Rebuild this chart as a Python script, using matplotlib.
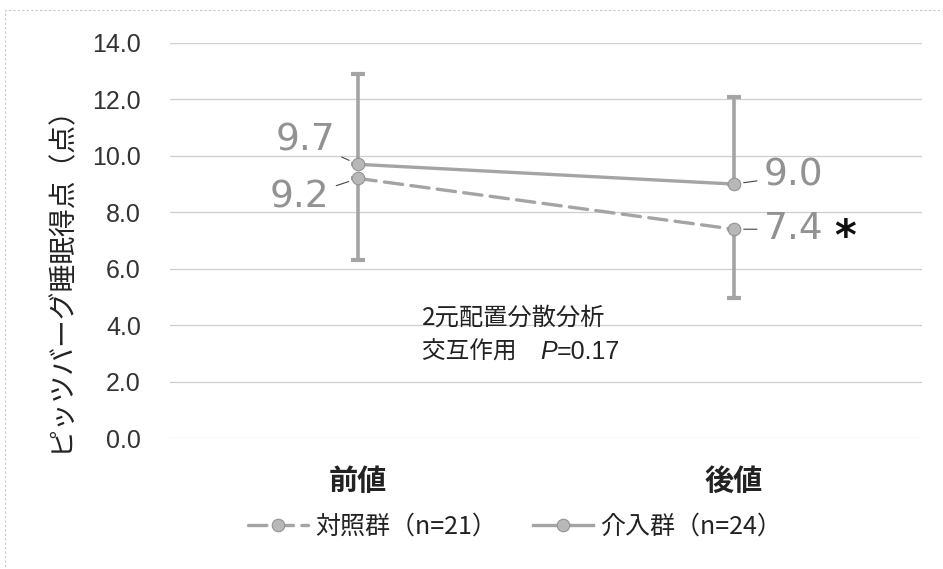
import matplotlib
matplotlib.use('Agg')
import matplotlib.pyplot as plt
from matplotlib.offsetbox import TextArea, HPacker, AnnotationBbox
from matplotlib.patches import Rectangle

plt.rcParams['font.family'] = ['Noto Sans CJK JP', 'DejaVu Sans']

# data
timepoints = ['前値', '後値']
control_mean = [9.2, 7.4]
control_sd = [2.9, 2.45]
interv_mean = [9.7, 9.0]
interv_sd = [3.2, 3.1]
control_name = '対照群（n=21）'
interv_name = '介入群（n=24）'
y_ticks = [0, 2, 4, 6, 8, 10, 12, 14]

line_col = '#a4a4a4'
face_col = '#b8b8b8'
edge_col = '#939393'
label_col = '#929292'

fig = plt.figure(figsize=(9.43, 5.69), dpi=100)
ax = fig.add_axes([170 / 943, 1 - 438 / 569, (922 - 170) / 943, (438 - 43) / 569])

x = list(range(len(timepoints)))

# error bars: upper only for intervention, lower only for control
ax.errorbar(x, interv_mean, yerr=[[0] * len(x), interv_sd], fmt='none',
            ecolor=line_col, elinewidth=2.6, capsize=5, capthick=3, zorder=2)
ax.errorbar(x, control_mean, yerr=[control_sd, [0] * len(x)], fmt='none',
            ecolor=line_col, elinewidth=2.6, capsize=5, capthick=3, zorder=2)

ax.plot(x, control_mean, color=line_col, lw=2.4, dashes=(5.5, 2.5),
        dash_capstyle='round', marker='o', ms=9, mfc=face_col, mec=edge_col,
        mew=0.8, label=control_name, zorder=3)
ax.plot(x, interv_mean, color=line_col, lw=2.4, marker='o', ms=9,
        mfc=face_col, mec=edge_col, mew=0.8, label=interv_name, zorder=3)

# data labels with short leader lines
def put_label(xi, yi, dx, dy):
    ax.annotate(f'{yi:.1f}', xy=(xi, yi), xytext=(dx, dy), textcoords='offset points',
                ha='center', va='center', fontsize=27, color=label_col,
                family='DejaVu Sans',
                arrowprops=dict(arrowstyle='-', color='#444444', lw=0.8,
                                shrinkA=3, shrinkB=7))

put_label(x[0], interv_mean[0], -38, 17)
put_label(x[0], control_mean[0], -42, -14)
put_label(x[1], interv_mean[1], 43, 6)
put_label(x[1], control_mean[1], 43, 0)
ax.annotate('*', xy=(x[1], control_mean[1]), xytext=(80, -6), textcoords='offset points',
            ha='center', va='center', fontsize=30, fontweight='bold', color='#111111',
            family='DejaVu Sans')

# ANOVA note
ax.text(0.335, 4.25, '2元配置分散分析', transform=ax.get_yaxis_transform(),
        fontsize=17.5, color='#222222', va='center', ha='left')
note = HPacker(children=[
    TextArea('交互作用　', textprops=dict(fontsize=17, color='#222222')),
    TextArea('P', textprops=dict(fontsize=18, color='#222222', style='italic',
                                 family='Liberation Sans')),
    TextArea('=0.17', textprops=dict(fontsize=18, color='#222222', family='Liberation Sans')),
], pad=0, sep=0, align='baseline')
ab = AnnotationBbox(note, (0.335, 3.05), xycoords=ax.get_yaxis_transform(),
                    box_alignment=(0, 0.5), frameon=False, pad=0)
ax.add_artist(ab)

ax.set_xlim(-0.5, 1.5)
ax.set_ylim(0, 14)
ax.set_yticks(y_ticks)
ax.set_yticklabels([f'{v:.1f}' for v in y_ticks], family='Liberation Sans',
                   fontsize=18, color='#333333')
ax.set_xticks(x)
ax.set_xticklabels(timepoints, fontsize=21, fontweight='bold', color='#222222')
ax.tick_params(axis='y', length=0, pad=21)
ax.tick_params(axis='x', length=0, pad=20)
ax.grid(axis='y', color='#cfcfcf', lw=0.9)
ax.set_axisbelow(True)
for s in ax.spines.values():
    s.set_visible(False)

fig.text(60 / 943, 1 - 272 / 569, 'ピッツバーグ睡眠得点（点）', rotation=90,
         fontsize=20, ha='center', va='center', color='#222222')

leg = fig.legend(loc='center', bbox_to_anchor=(515 / 943, 1 - 527 / 569),
                 ncol=2, frameon=False, fontsize=18, handlelength=2.4,
                 columnspacing=1.4, handletextpad=0.3)
for t in leg.get_texts():
    t.set_color('#222222')

# faint outer frame of the scanned chart
fig.patches.append(Rectangle((5 / 943, -0.1), 1.2, 1.1 - 10 / 569,
                             transform=fig.transFigure, fill=False,
                             edgecolor='#c8c8c8', lw=0.8, ls=(0, (2, 2))))

fig.savefig('out.png', dpi=100)
